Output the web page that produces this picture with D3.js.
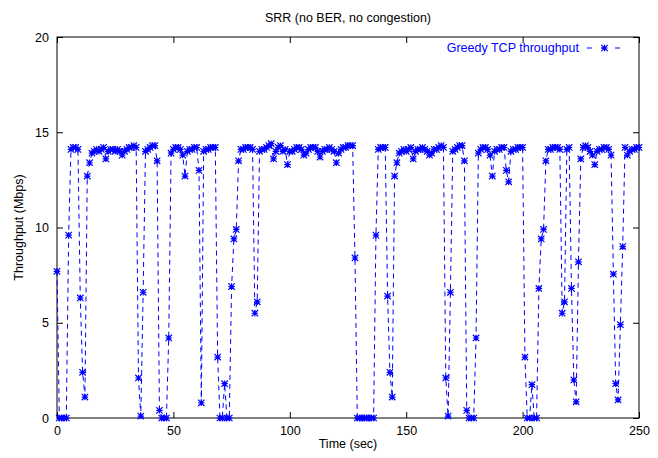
<!DOCTYPE html>
<html>
<head>
<meta charset="utf-8">
<script src="https://cdn.jsdelivr.net/npm/d3@7"></script>
<style>
  body { margin: 0; background: #fff; }
  text { font-family: "Liberation Sans", Arial, Helvetica, sans-serif; }
</style>
</head>
<body>
<svg id="chart" width="658" height="458"></svg>
<script>
// throughput samples, one per second from t = 0 to t = 250
var sampleStep = 1;
var throughput = [
  7.7, 0, 0, 0, 0, 9.6, 14.1, 14.2, 14.2, 14.1,
  6.3, 2.4, 1.1, 12.7, 13.4, 13.9, 14.0, 14.1, 14.0, 14.1,
  14.2, 13.6, 14.0, 14.1, 14.1, 14.0, 14.1, 14.0, 13.8, 14.0,
  14.1, 14.2, 14.2, 14.3, 14.2, 2.1, 0.1, 6.6, 14.0, 14.1,
  14.2, 14.3, 14.3, 13.5, 0.4, 0, 0, 0, 4.2, 13.9,
  14.1, 14.2, 14.2, 14.1, 13.8, 12.7, 14.0, 14.1, 14.1, 14.2,
  14.2, 13.0, 0.8, 14.0, 14.1, 14.1, 14.2, 14.2, 14.2, 3.2,
  0, 0, 1.8, 0, 0, 6.9, 9.4, 9.9, 13.5, 14.1,
  14.1, 14.2, 14.2, 14.2, 14.1, 5.5, 6.1, 14.0, 14.1, 14.1,
  14.2, 14.3, 14.4, 13.6, 14.0, 14.2, 14.3, 14.0, 14.1, 13.3,
  14.0, 14.0, 14.1, 14.2, 14.2, 14.1, 13.8, 13.9, 14.1, 14.2,
  14.2, 14.2, 14.0, 13.7, 14.0, 14.1, 14.1, 14.2, 14.1, 14.0,
  13.4, 13.9, 14.1, 14.2, 14.2, 14.3, 14.3, 14.3, 8.4, 0,
  0, 0, 0, 0, 0, 0, 0, 9.6, 14.1, 14.2,
  14.2, 14.2, 6.4, 2.4, 1.1, 12.7, 13.4, 13.9, 14.0, 14.1,
  14.0, 14.1, 14.2, 13.6, 14.0, 14.1, 14.1, 14.2, 14.1, 14.0,
  13.8, 13.9, 14.1, 14.1, 14.2, 14.3, 14.2, 2.1, 0.1, 6.6,
  14.0, 14.1, 14.2, 14.3, 14.3, 13.5, 0.4, 0, 0, 0,
  4.2, 13.9, 14.1, 14.2, 14.2, 14.1, 13.8, 12.7, 14.0, 14.1,
  14.1, 14.2, 14.2, 13.0, 12.4, 14.0, 14.1, 14.1, 14.2, 14.2,
  14.2, 3.2, 0, 0, 1.75, 0, 0, 6.8, 9.4, 9.9,
  13.5, 14.1, 14.1, 14.2, 14.2, 14.2, 14.1, 5.5, 6.1, 14.1,
  14.2, 6.8, 2.0, 0.85, 8.2, 13.6, 14.2, 14.3, 14.2, 14.0,
  13.8, 13.3, 14.0, 14.1, 14.1, 14.2, 14.2, 14.1, 13.8, 7.55,
  1.8, 0.95, 4.9, 9.0, 14.2, 13.8, 14.0, 14.1, 14.1, 14.2,
  14.2
];
var xTicks = [0, 50, 100, 150, 200, 250];
var yTicks = [0, 5, 10, 15, 20];
var seriesName = "Greedy TCP throughput";

var svg = d3.select("#chart");
var plotL = 57, plotR = 639, plotT = 37, plotB = 418;
var blue = "#0000ff";

var x = d3.scaleLinear().domain([0, 250]).range([plotL, plotR]);
var y = d3.scaleLinear().domain([0, 20]).range([plotB, plotT]);

var pts = throughput.map(function(v, i) { return [i * sampleStep, v]; });

// frame
svg.append("rect")
  .attr("x", plotL).attr("y", plotT)
  .attr("width", plotR - plotL).attr("height", plotB - plotT)
  .attr("fill", "none").attr("stroke", "#000").attr("stroke-width", 1);

// axes, ticks pointing inwards, mirrored on top/right
var fs = "12.5px";
var gx = svg.append("g").attr("transform", "translate(0," + plotB + ")")
  .call(d3.axisBottom(x).tickValues(xTicks).tickSize(-6).tickPadding(8).tickFormat(d3.format("d")));
var gy = svg.append("g").attr("transform", "translate(" + plotL + ",0)")
  .call(d3.axisLeft(y).tickValues(yTicks).tickSize(-6).tickPadding(8).tickFormat(d3.format("d")));
var gx2 = svg.append("g").attr("transform", "translate(0," + plotT + ")")
  .call(d3.axisTop(x).tickValues(xTicks).tickSize(-6).tickFormat(""));
var gy2 = svg.append("g").attr("transform", "translate(" + plotR + ",0)")
  .call(d3.axisRight(y).tickValues(yTicks).tickSize(-6).tickFormat(""));

[gx, gy, gx2, gy2].forEach(function(g) {
  g.select(".domain").remove();
  g.selectAll("line").attr("stroke", "#000");
  g.selectAll("text").attr("fill", "#000").style("font-size", fs)
    .style("font-family", '"Liberation Sans", Arial, sans-serif');
});

// series line
var line = d3.line().x(function(d) { return x(d[0]); }).y(function(d) { return y(d[1]); });
svg.append("path")
  .datum(pts)
  .attr("d", line)
  .attr("fill", "none")
  .attr("stroke", blue)
  .attr("stroke-width", 1)
  .attr("stroke-dasharray", "5,4");

function star(cx, cy, r) {
  return "M" + (cx - r) + "," + cy + "H" + (cx + r) +
    "M" + cx + "," + (cy - r) + "V" + (cy + r) +
    "M" + (cx - r) + "," + (cy - r) + "L" + (cx + r) + "," + (cy + r) +
    "M" + (cx - r) + "," + (cy + r) + "L" + (cx + r) + "," + (cy - r);
}

svg.append("g").selectAll("path")
  .data(pts)
  .enter()
  .append("path")
  .attr("d", function(d) { return star(x(d[0]), y(d[1]), 3.2); })
  .attr("stroke", blue)
  .attr("stroke-width", 1.2)
  .attr("fill", "none");

// legend
var ly = 48;
svg.append("text")
  .attr("x", 579).attr("y", ly).attr("dy", "0.35em")
  .attr("text-anchor", "end")
  .attr("fill", blue)
  .style("font-size", fs)
  .text(seriesName);
svg.append("line")
  .attr("x1", 587).attr("x2", 622).attr("y1", ly).attr("y2", ly)
  .attr("stroke", blue).attr("stroke-width", 1).attr("stroke-dasharray", "5,9");
svg.append("path")
  .attr("d", star(604.5, ly, 3.2))
  .attr("stroke", blue).attr("stroke-width", 1.2).attr("fill", "none");

// titles
svg.append("text")
  .attr("x", (plotL + plotR) / 2).attr("y", 18).attr("dy", "0.35em")
  .attr("text-anchor", "middle")
  .style("font-size", fs)
  .text("SRR (no BER, no congestion)");
svg.append("text")
  .attr("x", (plotL + plotR) / 2).attr("y", 444).attr("dy", "0.35em")
  .attr("text-anchor", "middle")
  .style("font-size", fs)
  .text("Time (sec)");
svg.append("text")
  .attr("transform", "translate(19," + (plotT + plotB) / 2 + ") rotate(-90)")
  .attr("dy", "0.35em")
  .attr("text-anchor", "middle")
  .style("font-size", fs)
  .text("Throughput (Mbps)");
</script>
</body>
</html>
